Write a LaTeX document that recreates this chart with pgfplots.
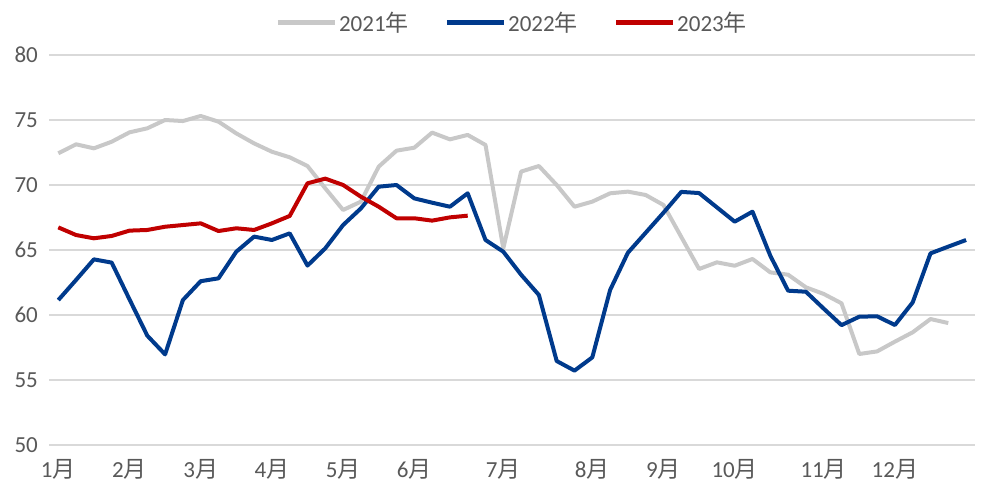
\documentclass[border=0pt]{standalone}
\usepackage{fontspec}
\setmainfont{Carlito}
\newfontfamily\cjk{Noto Sans CJK SC}
\usepackage{pgfplots}
\usepackage{pgfplotstable}
\pgfplotsset{compat=1.18}
\definecolor{cgray}{RGB}{200,200,200}
\definecolor{cblue}{RGB}{0,58,140}
\definecolor{cred}{RGB}{192,0,0}
\definecolor{ctext}{RGB}{89,89,89}
\definecolor{cgrid}{RGB}{217,217,217}
\pgfplotstableread{
x y
0 72.44
1 73.13
2 72.82
3 73.33
4 74.05
5 74.36
6 75.0
7 74.92
8 75.31
9 74.87
10 73.97
11 73.2
12 72.56
13 72.13
14 71.46
15 69.74
16 68.08
17 68.72
18 71.41
19 72.64
20 72.87
21 74.03
22 73.51
23 73.85
24 73.08
25 65.13
26 71.03
27 71.46
28 70.0
29 68.33
30 68.72
31 69.36
32 69.49
33 69.23
34 68.46
35 66.0
36 63.54
37 64.05
38 63.79
39 64.31
40 63.28
41 63.1
42 62.13
43 61.62
44 60.9
45 57.0
46 57.2
47 57.95
48 58.67
49 59.69
50 59.38
}\tA
\pgfplotstableread{
x y
0 61.15
1 62.7
2 64.28
3 64.03
4 61.2
5 58.41
6 56.97
7 61.15
8 62.6
9 62.82
10 64.87
11 66.03
12 65.77
13 66.28
14 63.8
15 65.13
16 66.92
17 68.2
18 69.87
19 70.0
20 68.97
21 68.64
22 68.33
23 69.36
24 65.77
25 64.87
26 63.1
27 61.54
28 56.46
29 55.72
30 56.74
31 61.92
32 64.79
33 66.33
34 67.87
35 69.47
36 69.38
37 68.28
38 67.18
39 67.95
40 64.56
41 61.87
42 61.79
43 60.49
44 59.22
45 59.87
46 59.9
47 59.23
48 60.97
49 64.74
50 65.26
51 65.77
}\tB
\pgfplotstableread{
x y
0 66.74
1 66.15
2 65.9
3 66.08
4 66.49
5 66.54
6 66.79
7 66.92
8 67.05
9 66.46
10 66.67
11 66.54
12 67.05
13 67.62
14 70.13
15 70.49
16 70.0
17 69.1
18 68.33
19 67.44
20 67.44
21 67.26
22 67.51
23 67.64
}\tC
\begin{document}
\begin{tikzpicture}
\path[use as bounding box] (-49.4bp,-42bp) rectangle (932.6bp,445bp);
\begin{axis}[
  at={(0,0)}, anchor=south west,
  scale only axis,
  width=925.6bp, height=390bp,
  xmin=-0.5, xmax=51.5, ymin=50, ymax=80,
  axis line style={draw=none},
  major tick length=0pt,
  ytick={50,55,...,80},
  ymajorgrids,
  grid style={cgrid, line width=1.2bp},
  xtick={0,4,8,12,16,20,25,30,34,38,43,47},
  xticklabels={1{\cjk 月},2{\cjk 月},3{\cjk 月},4{\cjk 月},5{\cjk 月},6{\cjk 月},7{\cjk 月},8{\cjk 月},9{\cjk 月},10{\cjk 月},11{\cjk 月},12{\cjk 月}},
  /pgf/number format/assume math mode=true,
  tick label style={font=\fontsize{23bp}{27bp}\selectfont, text=ctext},
  yticklabel style={anchor=east, xshift=-8bp},
  xticklabel style={anchor=north, yshift=-11bp},
  legend style={at={(0.5,1)}, anchor=south, yshift=20bp, draw=none, fill=none,
    legend columns=3, font=\fontsize{23bp}{27bp}\selectfont, text=ctext,
    /tikz/every even column/.append style={column sep=34bp},
    inner sep=0pt},
  legend image code/.code={\draw[#1, line width=4.5bp] (0bp,0bp) -- (57bp,0bp);},
  every axis plot/.append style={line width=4bp, line join=round, no markers},
]
\addplot[cgray] table {\tA};
\addlegendentry{2021{\cjk 年}}
\addplot[cblue] table {\tB};
\addlegendentry{2022{\cjk 年}}
\addplot[cred] table {\tC};
\addlegendentry{2023{\cjk 年}}
\end{axis}
\end{tikzpicture}
\end{document}
